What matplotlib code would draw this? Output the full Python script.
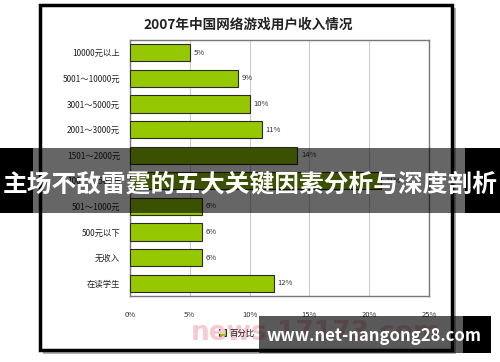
import matplotlib
matplotlib.use("Agg")
import matplotlib.pyplot as plt
from matplotlib.patches import Rectangle

plt.rcParams['font.family'] = ['Noto Sans CJK SC', 'DejaVu Sans']

# data
categories = ['10000元以上', '5001～10000元', '3001～5000元', '2001～3000元', '1501～2000元',
              '1001～1500元', '501～1000元', '500元以下', '无收入', '在读学生']
values = [5, 9, 10, 11, 14, 21, 6, 6, 6, 12]
xticks = [0, 5, 10, 15, 20, 25]
title = '2007年中国网络游戏用户收入情况'
legend_label = '百分比'
banner = '主场不敌雷霆的五大关键因素分析与深度剖析'
site = 'www.net-nangong28.com'

W, H = 500, 362
fig = plt.figure(figsize=(W / 100, H / 100), dpi=100)

# background layer in pixel coords (frame, title, legend)
bg = fig.add_axes([0, 0, 1, 1], zorder=0)
bg.set_xlim(0, W)
bg.set_ylim(H, 0)
bg.axis('off')
bg.add_patch(Rectangle((43, 8), 413, 346, facecolor='#b0b0b0', edgecolor='none'))
bg.add_patch(Rectangle((40, 5), 412, 345, facecolor='white', edgecolor='black', lw=2.5))
bg.text(248, 25, title, ha='center', va='center', fontsize=9.8, fontweight='bold', color='#222222')
bg.text(316, 333, 'news.17173.com', ha='center', va='center', fontsize=19,
        fontweight='bold', color='#f7c9d0', family='DejaVu Sans')
bg.add_patch(Rectangle((219, 329), 7, 7, facecolor='#95c800', edgecolor='#333333', lw=0.8))
bg.text(229, 333, legend_label, ha='left', va='center', fontsize=6, color='#222222')

# chart
ax = fig.add_axes([130 / W, 1 - 296 / H, (429 - 130) / W, (296 - 40) / H], zorder=1)
ypos = list(range(len(categories)))
ax.barh(ypos, values, height=0.67, color='#95c800', edgecolor='#2a2a2a', lw=0.8, zorder=3)
for y, v in zip(ypos, values):
    ax.text(v + 0.35, y, f'{v}%', ha='left', va='center', fontsize=5.5, color='#333333')
ax.set_xlim(0, 25)
ax.set_ylim(len(categories) - 0.5, -0.5)
ax.set_yticks(ypos)
ax.set_yticklabels(categories, fontsize=6, color='#222222')
ax.set_xticks(xticks)
ax.set_xticklabels([f'{t}%' for t in xticks], fontsize=5.5, color='#333333')
ax.tick_params(length=0)
ax.tick_params(axis='x', pad=11)
ax.tick_params(axis='y', pad=7)
ax.grid(axis='x', color='#cccccc', lw=0.8, zorder=0)
for s in ax.spines.values():
    s.set_color('#777777')
    s.set_linewidth(1.0)

# overlay: banner and site watermark
ov = fig.add_axes([0, 0, 1, 1], zorder=2)
ov.set_xlim(0, W)
ov.set_ylim(H, 0)
ov.axis('off')
ov.patch.set_alpha(0)
ov.add_patch(Rectangle((0, 148), 33, 65, facecolor='black', edgecolor='none'))
ov.add_patch(Rectangle((465, 148), 35, 65, facecolor='black', edgecolor='none'))
ov.add_patch(Rectangle((33, 148), 432, 65, facecolor='black', alpha=0.6, edgecolor='none'))
ov.text(250, 184, banner, ha='center', va='center', fontsize=17.8, fontweight='bold', color='white')
ov.add_patch(Rectangle((259, 316), 204, 37, facecolor='black', alpha=0.65, edgecolor='none'))
ov.add_patch(Rectangle((463, 316), 28, 37, facecolor='black', edgecolor='none'))
ov.text(374, 336, site, ha='center', va='center', fontsize=12, fontweight='bold', color='white')

fig.savefig('out.png', dpi=100)
